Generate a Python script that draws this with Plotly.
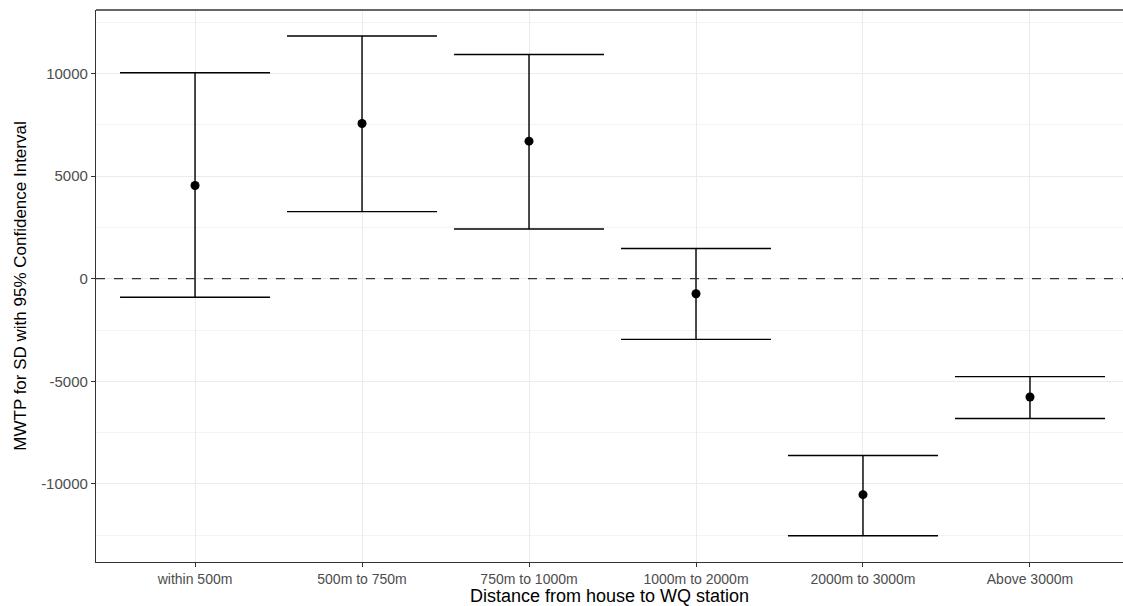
import plotly.graph_objects as go

categories = ["within 500m", "500m to 750m", "750m to 1000m", "1000m to 2000m", "2000m to 3000m", "Above 3000m"]
mwtp = [4540, 7560, 6700, -730, -10520, -5760]
upper = [10030, 11825, 10920, 1470, -8610, -4770]
lower = [-905, 3270, 2425, -2955, -12520, -6810]

err_plus = [u - m for u, m in zip(upper, mwtp)]
err_minus = [m - l for m, l in zip(mwtp, lower)]
xpos = list(range(len(categories)))

fig = go.Figure()
fig.add_trace(go.Scatter(
    x=xpos, y=mwtp, mode="markers",
    marker=dict(color="black", size=9),
    error_y=dict(type="data", symmetric=False, array=err_plus, arrayminus=err_minus,
                 color="black", thickness=1.4, width=75),
    showlegend=False,
))

fig.add_shape(type="line", xref="paper", x0=0, x1=1, yref="y", y0=0, y1=0,
              line=dict(color="#333333", width=1.2, dash="dash"), layer="above")
fig.add_shape(type="line", xref="paper", x0=0, x1=1, yref="paper", y0=1, y1=1,
              line=dict(color="#333333", width=1.3))

grid = "#EBEBEB"
fig.update_layout(
    width=1123, height=606,
    margin=dict(l=96, r=0, t=10, b=44),
    paper_bgcolor="white", plot_bgcolor="white",
    font=dict(family="Liberation Sans, Arial", color="#4D4D4D"),
    xaxis=dict(
        range=[-0.593, 5.557],
        tickmode="array", tickvals=xpos, ticktext=categories,
        showgrid=True, gridcolor=grid, gridwidth=1.2,
        showline=True, linecolor="#333333", linewidth=1.3,
        ticks="outside", ticklen=4, tickcolor="#333333",
        tickfont=dict(size=14, color="#4D4D4D"),
        title=dict(text="Distance from house to WQ station", font=dict(size=18, color="black"), standoff=1),
        zeroline=False,
    ),
    yaxis=dict(
        range=[-13800, 13090],
        tickmode="array", tickvals=[-10000, -5000, 0, 5000, 10000],
        ticktext=["-10000", "-5000", "0", "5000", "10000"],
        showgrid=True, gridcolor=grid, gridwidth=1.2,
        minor=dict(tickvals=[-12500, -7500, -2500, 2500, 7500, 12500], showgrid=True, gridcolor="#F3F3F3", gridwidth=1),
        showline=True, linecolor="#333333", linewidth=1.3,
        ticks="outside", ticklen=4, tickcolor="#333333",
        tickfont=dict(size=15, color="#4D4D4D"),
        title=dict(text="MWTP for SD with 95% Confidence Interval", font=dict(size=17, color="black"), standoff=10),
        zeroline=False,
    ),
)

fig.write_html("out.html")
